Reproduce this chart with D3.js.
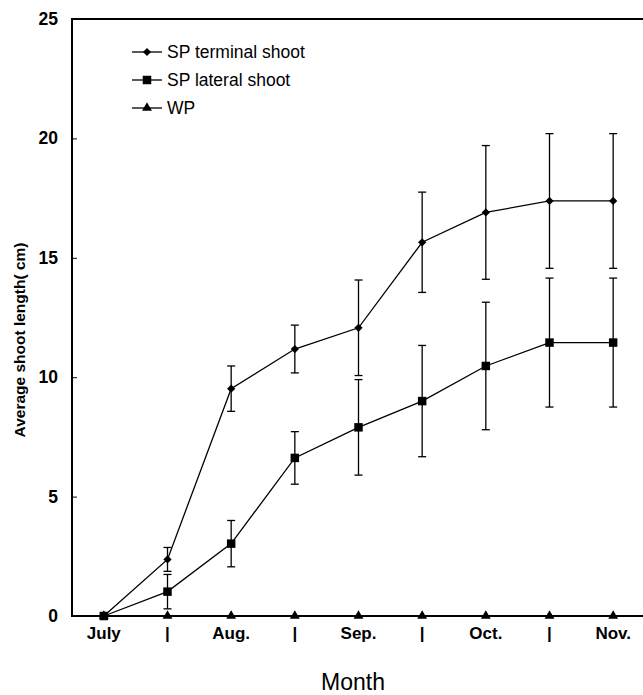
<!DOCTYPE html>
<html>
<head>
<meta charset="utf-8">
<script src="https://cdn.jsdelivr.net/npm/d3@7"></script>
<style>
	body { margin: 0; background: #fff; }
	text { font-family: Arial, 'Liberation Sans', sans-serif; }
</style>
</head>
<body>
<svg id="chart" width="643" height="695"></svg>
<script>
var months = ['July', '|', 'Aug.', '|', 'Sep.', '|', 'Oct.', '|', 'Nov.']
var yTicks = [0, 5, 10, 15, 20, 25]

var terminal    = [0, 2.37, 9.52, 11.18, 12.07, 15.65, 16.90, 17.38, 17.38]
var terminalErr = [0, 0.50, 0.95, 1.00, 2.00, 2.10, 2.80, 2.82, 2.82]
var lateral     = [0, 1.02, 3.03, 6.62, 7.90, 9.00, 10.47, 11.45, 11.45]
var lateralErr  = [0, 0.72, 0.97, 1.10, 2.00, 2.33, 2.67, 2.70, 2.70]
var wp          = [0, 0, 0, 0, 0, 0, 0, 0, 0]

var LINE_COLOR = '#000'

var svg = d3.select('#chart')

var x = d3.scaleLinear().domain([-0.5, months.length - 0.5]).range([72, 645])
var y = d3.scaleLinear().domain([0, 25]).range([616, 19])

var series = [
	{name: 'WP', values: wp, err: null, symbol: d3.symbolTriangle, size: 42, rot: 0},
	{name: 'SP terminal shoot', values: terminal, err: terminalErr, symbol: d3.symbolSquare, size: 34, rot: 45},
	{name: 'SP lateral shoot', values: lateral, err: lateralErr, symbol: d3.symbolSquare, size: 72, rot: 0}
]

// y axis with small inward ticks
var yAxis = d3.axisRight(y).tickValues(yTicks.filter(function(d){ return d > 0 && d < 25 }))
	.tickSize(5).tickFormat('')
svg.append('g')
	.attr('transform', 'translate(72,0)')
	.call(yAxis)
	.call(function(g){
		g.select('.domain').remove()
		g.selectAll('line').attr('stroke', LINE_COLOR).attr('stroke-width', 1)
	})

svg.selectAll('text.ytick')
	.data(yTicks)
	.enter().append('text')
		.attr('class', 'ytick')
		.attr('x', 58)
		.attr('y', function(d){ return y(d) + 6 })
		.attr('text-anchor', 'end')
		.attr('font-size', 17.5)
		.attr('font-weight', 'bold')
		.text(function(d){ return d })

// frame: left, top, bottom
svg.append('line').attr('x1', 72).attr('x2', 72).attr('y1', y(25)).attr('y2', y(0) + 1)
	.attr('stroke', LINE_COLOR).attr('stroke-width', 2)
svg.append('line').attr('x1', 71).attr('x2', 643).attr('y1', y(25)).attr('y2', y(25))
	.attr('stroke', LINE_COLOR).attr('stroke-width', 2)
svg.append('line').attr('x1', 71).attr('x2', 643).attr('y1', y(0)).attr('y2', y(0))
	.attr('stroke', LINE_COLOR).attr('stroke-width', 2.2)

// x labels
svg.selectAll('text.xtick')
	.data(months)
	.enter().append('text')
		.attr('class', 'xtick')
		.attr('x', function(d, i){ return x(i) })
		.attr('y', 639)
		.attr('text-anchor', 'middle')
		.attr('font-size', 17)
		.attr('font-weight', 'bold')
		.text(function(d){ return d })

// axis titles
svg.append('text')
	.attr('transform', 'translate(25,340) rotate(-90)')
	.attr('text-anchor', 'middle')
	.attr('font-size', 15.5)
	.attr('font-weight', 'bold')
	.text('Average shoot length( cm)')

svg.append('text')
	.attr('x', 353)
	.attr('y', 690)
	.attr('text-anchor', 'middle')
	.attr('font-size', 23)
	.text('Month')

// error bars
var idx = d3.range(months.length)
series.forEach(function(s){
	if (!s.err) return
	var g = svg.append('g').attr('class', 'errbars')
	idx.filter(function(i){ return s.err[i] > 0 }).forEach(function(i){
		var lo = y(s.values[i] - s.err[i]), hi = y(s.values[i] + s.err[i]), cx = x(i)
		g.append('line').attr('x1', cx).attr('x2', cx).attr('y1', lo).attr('y2', hi)
		g.append('line').attr('x1', cx - 4).attr('x2', cx + 4).attr('y1', lo).attr('y2', lo)
		g.append('line').attr('x1', cx - 4).attr('x2', cx + 4).attr('y1', hi).attr('y2', hi)
	})
	g.selectAll('line').attr('stroke', LINE_COLOR).attr('stroke-width', 1.3)
})

// lines + markers
var line = d3.line()
	.x(function(d, i){ return x(i) })
	.y(function(d){ return y(d) })

series.forEach(function(s){
	svg.append('path')
		.datum(s.values)
		.attr('d', line)
		.attr('fill', 'none')
		.attr('stroke', LINE_COLOR)
		.attr('stroke-width', 1.3)

	svg.selectAll(null)
		.data(s.values)
		.enter().append('path')
			.attr('d', d3.symbol().type(s.symbol).size(s.size))
			.attr('transform', function(d, i){ return 'translate(' + x(i) + ',' + y(d) + ') rotate(' + s.rot + ')' })
			.attr('fill', LINE_COLOR)
})

// legend
var legendOrder = [series[1], series[2], series[0]]
var legend = svg.selectAll('g.legend')
	.data(legendOrder)
	.enter().append('g')
		.attr('class', 'legend')
		.attr('transform', function(d, i){ return 'translate(132,' + (52 + i * 28) + ')' })

legend.append('line')
	.attr('x1', 0).attr('x2', 30)
	.attr('stroke', LINE_COLOR).attr('stroke-width', 1.3)
legend.append('path')
	.attr('d', function(d){ return d3.symbol().type(d.symbol).size(d.size)() })
	.attr('transform', function(d){ return 'translate(15,0) rotate(' + d.rot + ')' })
	.attr('fill', LINE_COLOR)
legend.append('text')
	.attr('x', 35)
	.attr('y', 6)
	.attr('font-size', 17.5)
	.text(function(d){ return d.name })
</script>
</body>
</html>
